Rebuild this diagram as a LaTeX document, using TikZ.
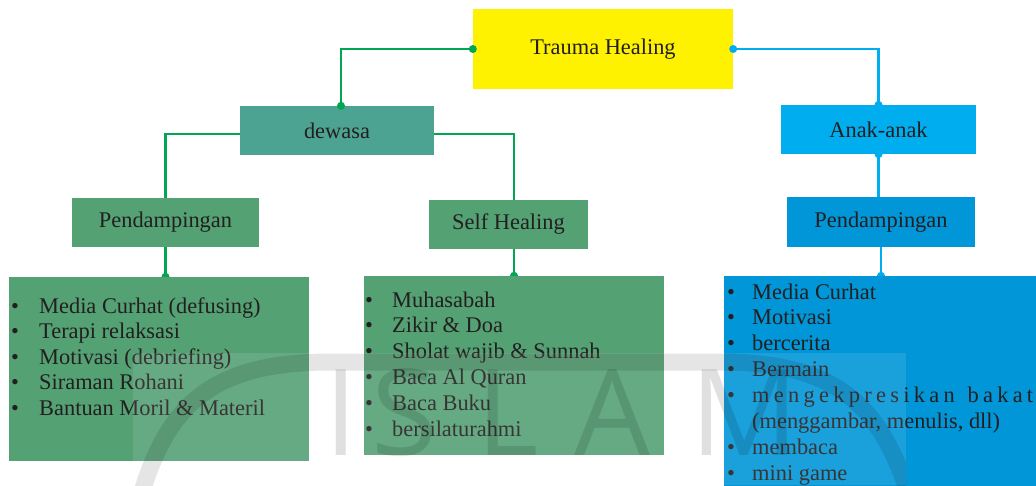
\documentclass[tikz,border=0pt]{standalone}
\usepackage{fontspec}
\setmainfont{Liberation Serif}
\newfontfamily\wmfont{Open Sans}
\usetikzlibrary{backgrounds}
\definecolor{cyel}{HTML}{FFF200}
\definecolor{cdewasa}{HTML}{4DA391}
\definecolor{cgreen}{HTML}{54A174}
\definecolor{cline}{HTML}{00A651}
\definecolor{ccyan}{HTML}{00AEEF}
\definecolor{cblue}{HTML}{0096D8}
\definecolor{ctext}{HTML}{231F20}
\begin{document}
\begin{tikzpicture}[x=1pt,y=-1pt,
  box/.style={rectangle, inner sep=0pt, font=\fontsize{22.4}{25.8}\selectfont, text=ctext},
  item/.style={anchor=base west, inner sep=0pt, font=\fontsize{22.4}{25.8}\selectfont, text=ctext},
  gline/.style={cline, line width=2.2pt},
  bline/.style={ccyan, line width=2.2pt},
  wm/.style={anchor=base, inner sep=0pt, font=\wmfont\fontsize{120}{120}\selectfont, text=black, text opacity=0.12}
]
\useasboundingbox (0,0) rectangle (1036,485);

% boxes
\node[box, fill=cyel, minimum width=260pt, minimum height=80pt] (trauma) at (603,49) {Trauma Healing};
\node[box, fill=cdewasa, minimum width=194pt, minimum height=49pt] (dewasa) at (337,130.5) {dewasa};
\node[box, fill=cgreen, minimum width=187pt, minimum height=49pt] (pend1) at (165.5,222.5) {Pendampingan};
\node[box, fill=cgreen, minimum width=159pt, minimum height=49pt] (self) at (508.5,224.5) {Self Healing};
\node[box, fill=ccyan, minimum width=195pt, minimum height=49pt] (anak) at (878.5,129.5) {Anak-anak};
\node[box, fill=cblue, minimum width=188pt, minimum height=50pt] (pend2) at (881,222) {Pendampingan};
\node[box, fill=cgreen, minimum width=300pt, minimum height=184pt] (box1) at (159,369) {};
\node[box, fill=cgreen, minimum width=300pt, minimum height=179pt] (box2) at (514,365.5) {};
\node[box, fill=cblue, minimum width=320pt, minimum height=215pt] (box3) at (884,383.5) {};

% connectors
\coordinate (k1) at (341,0);
\coordinate (k2) at (514,0);
\draw[gline] (trauma.west) -| (k1 |- dewasa.north);
\fill[cline] (trauma.west) circle (4pt);
\fill[cline] (k1 |- dewasa.north) circle (4pt);
\draw[gline] ([yshift=-3.5pt]dewasa.west) -| (pend1.north);
\draw[gline] ([yshift=-3.5pt]dewasa.east) -| (k2 |- self.north);
\draw[bline] (trauma.east) -| (anak.north);
\fill[ccyan] (trauma.east) circle (4pt);
\fill[ccyan] (anak.north) circle (4pt);
\draw[bline] (anak.south) -- (anak.south |- pend2.north);
\fill[ccyan] (anak.south) circle (4pt);
\begin{scope}[on background layer]
  \draw[gline] (pend1.south) -- (pend1.south |- box1.north);
  \fill[cline] (pend1.south |- box1.north) circle (4pt);
  \draw[gline] (k2 |- self.south) -- (k2 |- box2.north);
  \fill[cline] (k2 |- box2.north) circle (4pt);
  \draw[bline] (pend2.south) -- (pend2.south |- box3.north);
  \fill[ccyan] (pend2.south |- box3.north) circle (4pt);
\end{scope}

% left list
\foreach \t [count=\i from 0] in {Media Curhat (defusing), Terapi relaksasi, Motivasi (debriefing), Siraman Rohani, Bantuan Moril \& Materil}{
  \node[item] (la\i) at (11,{313+25.5*\i}) {\textbullet};
  \node[item] (lt\i) at (39,{313+25.5*\i}) {\t};
}
% middle list
\foreach \t [count=\i from 0] in {Muhasabah, Zikir \& Doa, Sholat wajib \& Sunnah, Baca Al Quran, Baca Buku, bersilaturahmi}{
  \node[item] (ma\i) at (365,{307+25.8*\i}) {\textbullet};
  \node[item] (mt\i) at (392,{307+25.8*\i}) {\t};
}
% right list
\foreach \t/\i in {Media Curhat/0, Motivasi/1, bercerita/2, Bermain/3, membaca/6, mini game/7}{
  \node[item] (ra\i) at (727,{299+25.86*\i}) {\textbullet};
  \node[item] (rt\i) at (752,{299+25.86*\i}) {\t};
}
\node[item] (ra4) at (727,{299+25.86*4}) {\textbullet};
\node[item] (rt4) at (752,{299+25.86*4}) {\hbox to 281pt{m\hfil e\hfil n\hfil g\hfil e\hfil k\hfil p\hfil r\hfil e\hfil s\hfil i\hfil k\hfil a\hfil n\hfil\hfil\hfil b\hfil a\hfil k\hfil a\hfil t}};
\node[item] (rt5) at (752,{299+25.86*5}) {(menggambar, menulis, dll)};

% watermark
\begin{scope}
  \clip (133,353) rectangle (906,485);
  \fill[white, opacity=0.1] (133,353) rectangle (906,485);
  \draw[black, opacity=0.1, line width=17pt] (141,495) .. controls (168,405) and (212,362) .. (330,362) -- (720,362) .. controls (836,362) and (880,405) .. (909,495);
  \node[wm] (wI) at (341,455) {I};
  \node[wm] (wS) at (404,455) {S};
  \node[wm] (wL) at (508,455) {L};
  \node[wm] (wA) at (612,455) {A};
  \node[wm] (wM) at (745,455) {M};
\end{scope}
\end{tikzpicture}
\end{document}
